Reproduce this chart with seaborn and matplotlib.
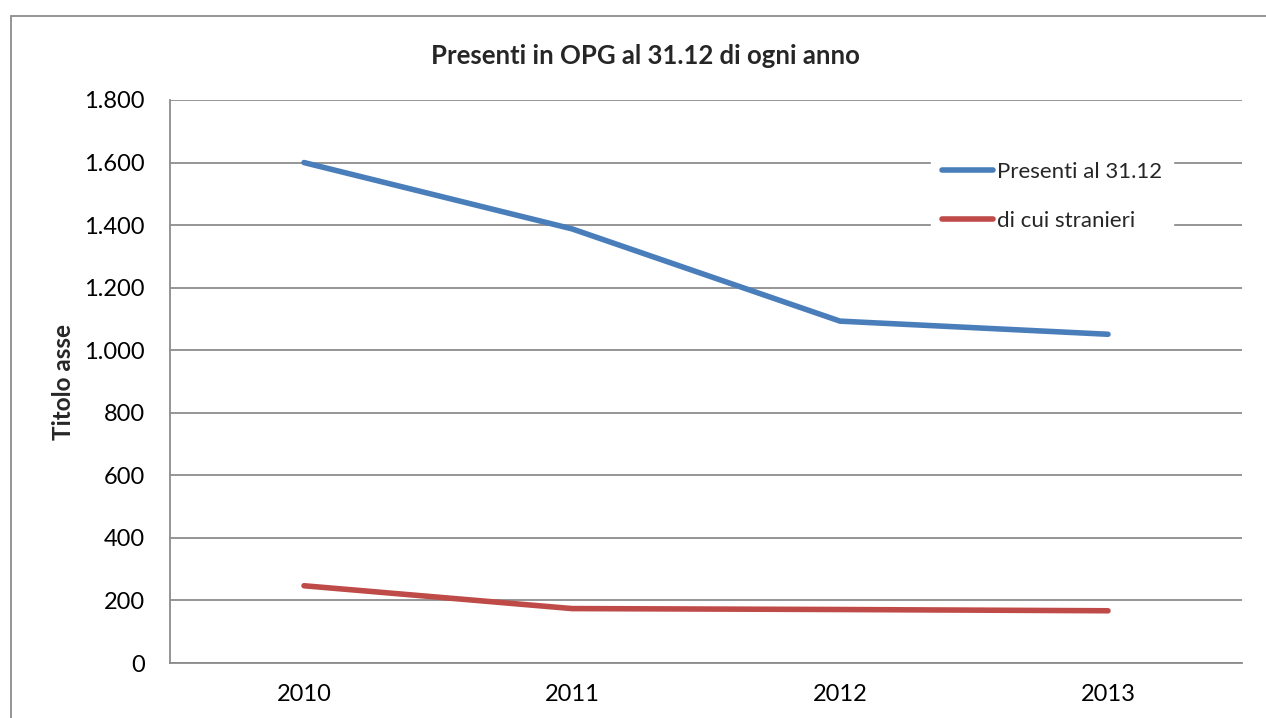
import matplotlib
matplotlib.use("Agg")
import matplotlib.pyplot as plt
import seaborn as sns
import pandas as pd
from matplotlib.patches import Rectangle
from matplotlib.ticker import FuncFormatter

years = ["2010", "2011", "2012", "2013"]
presenti = [1600, 1388, 1093, 1051]
stranieri = [247, 174, 171, 167]
series_names = ["Presenti al 31.12", "di cui stranieri"]
title = "Presenti in OPG al 31.12 di ogni anno"
ylabel = "Titolo asse"
yticks = [0, 200, 400, 600, 800, 1000, 1200, 1400, 1600, 1800]

df = pd.DataFrame({
    "anno": years * 2,
    "valore": presenti + stranieri,
    "serie": [series_names[0]] * 4 + [series_names[1]] * 4,
})

sns.set_theme(style="white")
plt.rcParams["font.family"] = ["Lato", "DejaVu Sans"]

fig = plt.figure(figsize=(12.66, 7.18), dpi=100)
ax = fig.add_axes([170 / 1266, 1 - 663 / 718, (1242 - 170) / 1266, (663 - 100) / 718])

# outer chart frame
fig.patches.append(Rectangle((11 / 1266, -0.1), 1.2, 1 - 16 / 718 + 0.1,
                             transform=fig.transFigure, fill=False,
                             edgecolor="#8c8c8c", linewidth=1.3, zorder=0))

palette = {series_names[0]: "#4a7ebb", series_names[1]: "#be4b48"}
sns.lineplot(data=df, x="anno", y="valore", hue="serie", palette=palette,
             linewidth=4, ax=ax, sort=False, legend=False, solid_capstyle="round")

ax.set_xlim(-0.5, 3.5)
ax.set_ylim(0, 1800)
ax.set_yticks(yticks)
ax.yaxis.set_major_formatter(FuncFormatter(lambda v, p: f"{int(v):,}".replace(",", ".")))
ax.grid(axis="y", color="#8c8c8c", linewidth=1.3)
ax.set_axisbelow(True)
for s in ["top", "right"]:
    ax.spines[s].set_visible(False)
for s in ["left", "bottom"]:
    ax.spines[s].set_color("#8c8c8c")
    ax.spines[s].set_linewidth(1.3)
ax.tick_params(axis="y", labelsize=17, length=0, pad=18, colors="black")
ax.tick_params(axis="x", labelsize=17, length=0, pad=15, colors="black")
ax.set_xlabel("")
ax.set_ylabel(ylabel, fontsize=17.5, fontweight="bold")
ax.yaxis.set_label_coords((75 - 170) / 1072, 0.5)
fig.text(645 / 1266, 1 - 56 / 718, title, ha="center", va="center",
         fontsize=18.5, fontweight="bold")

# legend
handles = [plt.Line2D([], [], color=palette[n], linewidth=4, solid_capstyle="round") for n in series_names]
leg = ax.legend(handles, series_names, loc="upper left",
                bbox_to_anchor=((920 - 170) / (1242 - 170), 1 - (140 - 100) / (663 - 100)),
                frameon=True, fontsize=16, handlelength=2.3, handletextpad=0.15,
                labelspacing=1.3, borderpad=0.5)
leg.get_frame().set_edgecolor("white")
leg.get_frame().set_facecolor("white")
leg.get_frame().set_alpha(1)

fig.savefig("out.png", dpi=100)
